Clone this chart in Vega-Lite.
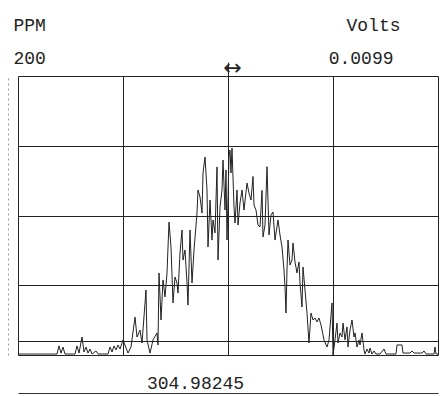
{
  "$schema": "https://vega.github.io/schema/vega-lite/v6.json",
  "width": 420,
  "height": 279,
  "autosize": {"type": "none"},
  "padding": {"left": 18, "top": 76, "right": 2, "bottom": 41},
  "background": "white",
  "config": {
    "view": {"stroke": null},
    "font": "Liberation Mono",
    "axis": {
      "labelFont": "Liberation Mono",
      "titleFont": "Liberation Mono",
      "titleFontWeight": "normal",
      "labelColor": "#222",
      "titleColor": "#222",
      "labelFontSize": 18,
      "titleFontSize": 18,
      "gridColor": "#222",
      "gridOpacity": 1,
      "gridWidth": 1,
      "labelFlush": false,
      "labelOverlap": false
    }
  },
  "data": {
    "values": [
      {"x": 0, "ppm": 0.7}, {"x": 22, "ppm": 0.7}, {"x": 39, "ppm": 0.7}, {"x": 41, "ppm": 6.5},
      {"x": 43, "ppm": 1.4}, {"x": 45, "ppm": 5.7}, {"x": 47, "ppm": 0.7}, {"x": 57, "ppm": 0.7},
      {"x": 59, "ppm": 6.5}, {"x": 61, "ppm": 1.4}, {"x": 64, "ppm": 12.9}, {"x": 66, "ppm": 2.2},
      {"x": 68, "ppm": 5.7}, {"x": 70, "ppm": 1.4}, {"x": 72, "ppm": 4.3}, {"x": 74, "ppm": 0.7},
      {"x": 78, "ppm": 2.9}, {"x": 80, "ppm": 0.7}, {"x": 90, "ppm": 0.7}, {"x": 92, "ppm": 5.7},
      {"x": 94, "ppm": 2.2}, {"x": 96, "ppm": 6.5}, {"x": 98, "ppm": 3.6}, {"x": 100, "ppm": 7.2},
      {"x": 102, "ppm": 4.3}, {"x": 105, "ppm": 10.8}, {"x": 110, "ppm": 1.4}, {"x": 113, "ppm": 5.7},
      {"x": 117, "ppm": 27.2}, {"x": 119, "ppm": 12.9}, {"x": 122, "ppm": 17.9}, {"x": 124, "ppm": 8.6},
      {"x": 128, "ppm": 46.6}, {"x": 129, "ppm": 10.8}, {"x": 132, "ppm": 1.4}, {"x": 135, "ppm": 10.8},
      {"x": 139, "ppm": 15.8}, {"x": 140, "ppm": 7.2}, {"x": 141, "ppm": 58.8}, {"x": 143, "ppm": 25.1},
      {"x": 145, "ppm": 53.8}, {"x": 147, "ppm": 41.6}, {"x": 149, "ppm": 58.8}, {"x": 151, "ppm": 95.3},
      {"x": 153, "ppm": 77.4}, {"x": 155, "ppm": 37.3}, {"x": 157, "ppm": 55.9}, {"x": 159, "ppm": 51.6},
      {"x": 160, "ppm": 44.4}, {"x": 162, "ppm": 73.1}, {"x": 164, "ppm": 89.6}, {"x": 165, "ppm": 68.1},
      {"x": 167, "ppm": 75.3}, {"x": 169, "ppm": 51.6}, {"x": 170, "ppm": 35.8}, {"x": 172, "ppm": 89.6},
      {"x": 174, "ppm": 51.6}, {"x": 176, "ppm": 75.3}, {"x": 179, "ppm": 101.8}, {"x": 180, "ppm": 118.3},
      {"x": 182, "ppm": 113.3}, {"x": 184, "ppm": 101.8}, {"x": 185, "ppm": 130.5}, {"x": 187, "ppm": 141.9},
      {"x": 189, "ppm": 118.3}, {"x": 190, "ppm": 77.4}, {"x": 192, "ppm": 111.1}, {"x": 194, "ppm": 82.4},
      {"x": 195, "ppm": 96.8}, {"x": 197, "ppm": 87.5}, {"x": 199, "ppm": 134.8}, {"x": 200, "ppm": 68.1},
      {"x": 202, "ppm": 106.1}, {"x": 204, "ppm": 118.3}, {"x": 205, "ppm": 139.8}, {"x": 207, "ppm": 103.9},
      {"x": 208, "ppm": 132.6}, {"x": 209, "ppm": 82.4}, {"x": 211, "ppm": 141.9}, {"x": 212, "ppm": 146.9},
      {"x": 213, "ppm": 130.5}, {"x": 214, "ppm": 148.4}, {"x": 216, "ppm": 106.1}, {"x": 217, "ppm": 94.6},
      {"x": 219, "ppm": 118.3}, {"x": 220, "ppm": 93.2}, {"x": 222, "ppm": 109.0}, {"x": 224, "ppm": 118.3},
      {"x": 226, "ppm": 103.9}, {"x": 229, "ppm": 123.3}, {"x": 231, "ppm": 116.1}, {"x": 233, "ppm": 111.1},
      {"x": 235, "ppm": 128.0}, {"x": 236, "ppm": 107.5}, {"x": 238, "ppm": 103.9}, {"x": 240, "ppm": 93.2},
      {"x": 242, "ppm": 91.8}, {"x": 244, "ppm": 118.0}, {"x": 245, "ppm": 84.6}, {"x": 247, "ppm": 93.2},
      {"x": 249, "ppm": 135.0}, {"x": 251, "ppm": 86.0}, {"x": 253, "ppm": 100.4}, {"x": 255, "ppm": 102.5},
      {"x": 257, "ppm": 82.4}, {"x": 260, "ppm": 96.8}, {"x": 262, "ppm": 86.0}, {"x": 264, "ppm": 77.4},
      {"x": 266, "ppm": 60.9}, {"x": 267, "ppm": 48.7}, {"x": 268, "ppm": 30.1}, {"x": 269, "ppm": 60.9},
      {"x": 270, "ppm": 82.4}, {"x": 272, "ppm": 64.5}, {"x": 274, "ppm": 68.1}, {"x": 275, "ppm": 80.3},
      {"x": 277, "ppm": 66.7}, {"x": 279, "ppm": 58.8}, {"x": 281, "ppm": 66.7}, {"x": 282, "ppm": 51.6},
      {"x": 284, "ppm": 34.4}, {"x": 285, "ppm": 63.1}, {"x": 287, "ppm": 46.6}, {"x": 289, "ppm": 30.1},
      {"x": 291, "ppm": 8.6}, {"x": 293, "ppm": 30.1}, {"x": 295, "ppm": 25.1}, {"x": 297, "ppm": 26.5},
      {"x": 299, "ppm": 23.7}, {"x": 301, "ppm": 26.5}, {"x": 303, "ppm": 21.5}, {"x": 306, "ppm": 10.8},
      {"x": 309, "ppm": 5.7}, {"x": 311, "ppm": 10.8}, {"x": 314, "ppm": 37.3}, {"x": 315, "ppm": 0},
      {"x": 317, "ppm": 10.8}, {"x": 319, "ppm": 22.9}, {"x": 320, "ppm": 8.6}, {"x": 322, "ppm": 15.8},
      {"x": 324, "ppm": 12.9}, {"x": 325, "ppm": 22.9}, {"x": 327, "ppm": 10.8}, {"x": 329, "ppm": 20.1},
      {"x": 330, "ppm": 5.7}, {"x": 332, "ppm": 17.9}, {"x": 334, "ppm": 25.1}, {"x": 336, "ppm": 12.9},
      {"x": 337, "ppm": 15.8}, {"x": 339, "ppm": 5.7}, {"x": 341, "ppm": 10.8}, {"x": 342, "ppm": 7.2},
      {"x": 344, "ppm": 15.8}, {"x": 346, "ppm": 3.6}, {"x": 347, "ppm": 0.7}, {"x": 349, "ppm": 4.3},
      {"x": 351, "ppm": 1.4}, {"x": 352, "ppm": 5.0}, {"x": 354, "ppm": 0.7}, {"x": 356, "ppm": 2.9},
      {"x": 358, "ppm": 0.7}, {"x": 362, "ppm": 0.7}, {"x": 366, "ppm": 4.3}, {"x": 368, "ppm": 0.7},
      {"x": 378, "ppm": 0.7}, {"x": 379, "ppm": 7.2}, {"x": 384, "ppm": 7.2}, {"x": 385, "ppm": 1.4},
      {"x": 392, "ppm": 1.4}, {"x": 394, "ppm": 2.9}, {"x": 396, "ppm": 1.4}, {"x": 404, "ppm": 1.4},
      {"x": 406, "ppm": 2.9}, {"x": 408, "ppm": 0.7}, {"x": 416, "ppm": 0.7}, {"x": 417, "ppm": 5.7},
      {"x": 418, "ppm": 0.7}, {"x": 420, "ppm": 0.7}
    ]
  },
  "layer": [
    {
      "mark": {"type": "line", "color": "#222", "strokeWidth": 1},
      "encoding": {
        "x": {
          "field": "x", "type": "quantitative",
          "scale": {"domain": [0, 420], "nice": false, "zero": false},
          "axis": {
            "orient": "bottom", "values": [0, 105, 210, 315, 420], "grid": true,
            "labels": false, "ticks": false, "domain": false,
            "title": "304.98245", "titleX": 177, "titleY": 33,
            "titleAlign": "center", "titleBaseline": "alphabetic"
          }
        },
        "y": {
          "field": "ppm", "type": "quantitative",
          "scale": {"domain": [0, 200], "nice": false},
          "axis": {
            "orient": "left", "values": [0, 10, 50, 100, 150, 200], "grid": true,
            "labelExpr": "datum.value == 200 ? '200' : ''",
            "ticks": false, "domain": false,
            "labelAlign": "left", "labelBaseline": "alphabetic",
            "labelPadding": 5, "labelOffset": -13,
            "title": "PPM", "titleAngle": 0, "titleAlign": "left",
            "titleBaseline": "alphabetic", "titleX": -5, "titleY": -46
          }
        }
      }
    },
    {
      "mark": {"type": "line", "color": "#222", "strokeOpacity": 0},
      "encoding": {
        "x": {
          "field": "x", "type": "quantitative",
          "axis": {
            "orient": "top", "values": [210], "grid": false,
            "ticks": true, "tickSize": 14, "tickColor": "#222", "domain": false,
            "labelExpr": "'↔'", "labelOffset": 4, "labelPadding": -5,
            "labelBaseline": "middle", "labelFontSize": 22, "labelFont": "DejaVu Sans", "title": null
          }
        },
        "y": {
          "field": "ppm", "type": "quantitative",
          "axis": {
            "orient": "right", "values": [200], "grid": false,
            "labelExpr": "'0.0099'", "ticks": false, "domain": false,
            "labelAlign": "right", "labelBaseline": "alphabetic",
            "labelPadding": -45, "labelOffset": -13,
            "title": "Volts", "titleAngle": 0, "titleAlign": "right",
            "titleBaseline": "alphabetic", "titleX": -38, "titleY": -46
          }
        }
      }
    },
    {
      "mark": {"type": "line", "color": "#222", "strokeOpacity": 0},
      "encoding": {
        "x": {
          "field": "x", "type": "quantitative",
          "axis": {
            "orient": "bottom", "offset": 38, "grid": false, "labels": false,
            "ticks": false, "domain": true, "domainColor": "#333", "domainWidth": 1, "title": null
          }
        },
        "y": {
          "field": "ppm", "type": "quantitative",
          "axis": {
            "orient": "left", "offset": 10, "grid": false, "labels": false,
            "ticks": false, "domain": true, "domainColor": "#999", "domainDash": [2, 3], "title": null
          }
        }
      }
    }
  ],
  "resolve": {"axis": {"x": "independent", "y": "independent"}}
}
